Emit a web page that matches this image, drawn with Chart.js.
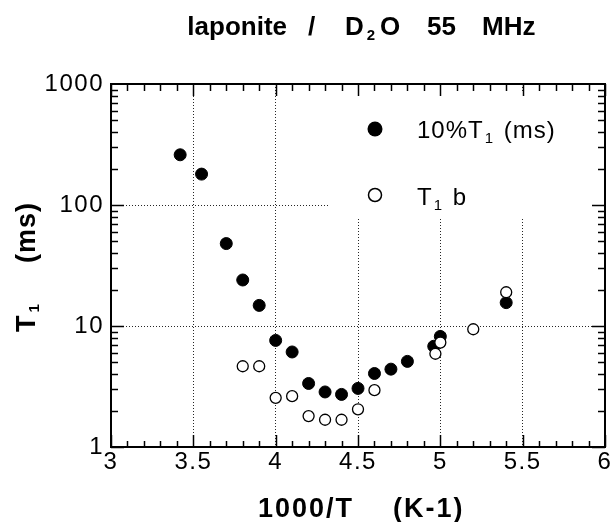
<!DOCTYPE html>
<html><head><meta charset="utf-8">
<script src="https://cdn.jsdelivr.net/npm/chart.js@4/dist/chart.umd.min.js"></script>
<style>html,body{margin:0;padding:0;background:#fff;} canvas{display:block;}</style>
</head><body>
<canvas id="c" width="612" height="522"></canvas>
<script>
// ---- data ----
const xFilled = [3.42, 3.55, 3.70, 3.80, 3.90, 4.00, 4.10, 4.20, 4.30, 4.40, 4.50, 4.60, 4.70, 4.80, 4.96, 5.00, 5.40];
const yFilled = [260, 180, 48, 24, 14.8, 7.6, 6.1, 3.35, 2.85, 2.72, 3.05, 4.05, 4.4, 5.1, 6.8, 8.2, 15.6];
const xOpen = [3.80, 3.90, 4.00, 4.10, 4.20, 4.30, 4.40, 4.50, 4.60, 4.97, 5.00, 5.20, 5.40];
const yOpen = [4.65, 4.65, 2.55, 2.63, 1.8, 1.68, 1.68, 2.05, 2.95, 5.9, 7.3, 9.4, 19];
const xTickValues = [3, 3.5, 4, 4.5, 5, 5.5, 6];
const yTickValues = [1, 10, 100, 1000];
const seriesNames = ['10%T1 (ms)', 'T1 b'];

const FONT = "'Liberation Sans', Arial, Helvetica, sans-serif";

function toPoints(xs, ys) { return xs.map((x, i) => ({x: x, y: ys[i]})); }

function drawRuns(ctx, runs, x, y) {
  let cx = x;
  for (const r of runs) {
    ctx.font = r.font;
    cx += (r.dx || 0);
    ctx.fillText(r.t, cx, y + (r.dy || 0));
    cx += ctx.measureText(r.t).width;
  }
  return cx;
}

const decor = {
  id: 'decor',
  beforeDraw(chart) {
    chart.ctx.letterSpacing = '1.5px';
  },
  beforeDatasetsDraw(chart) {
    const ctx = chart.ctx;
    ctx.save();
    ctx.fillStyle = '#fff';
    ctx.fillRect(330, 92, 267, 126);
    ctx.restore();
  },
  afterDraw(chart) {
    const ctx = chart.ctx;
    const {left, right, top, bottom} = chart.chartArea;
    const xs = chart.scales.x, ys = chart.scales.y;
    ctx.save();
    ctx.setLineDash([]);
    ctx.strokeStyle = '#000';
    ctx.lineWidth = 1.5;
    const line = (a, b, c, d) => { ctx.beginPath(); ctx.moveTo(a, b); ctx.lineTo(c, d); ctx.stroke(); };
    for (let i = 0; i <= 30; i++) {
      const px = Math.round(xs.getPixelForValue(3 + i / 10)) + 0.5;
      const major = i % 5 === 0;
      line(px, bottom, px, bottom - (major ? 12 : 6));
      line(px, top, px, top + (major ? 12 : 7));
    }
    for (let d = 0; d < 3; d++) {
      for (let m = 1; m <= 9; m++) {
        const py = Math.round(ys.getPixelForValue(Math.pow(10, d) * m)) + 0.5;
        const major = m === 1;
        line(left, py, left + (major ? 13 : 7), py);
        line(right, py, right - (major ? 13 : 7), py);
      }
    }
    ctx.lineWidth = 2;
    ctx.strokeRect(left, top, right - left, bottom - top);

    ctx.fillStyle = '#000';
    ctx.textAlign = 'left';
    ctx.textBaseline = 'alphabetic';

    // title
    ctx.letterSpacing = '0px';
    const TB = 'bold 26px ' + FONT;
    ctx.font = TB;
    ctx.textAlign = 'right';
    ctx.fillText('laponite', 287, 35);
    ctx.textAlign = 'left';
    ctx.fillText('/', 308, 35);
    const dEnd = drawRuns(ctx, [{t: 'D', font: TB}, {t: '2', font: 'bold 15px ' + FONT, dx: 3, dy: 5}], 345, 35);
    ctx.font = TB;
    ctx.fillText('O', Math.max(dEnd + 3, 380), 35);
    ctx.fillText('55', 427, 35);
    ctx.fillText('MHz', 482, 35);

    // x axis title
    ctx.letterSpacing = '2px';
    ctx.font = 'bold 27px ' + FONT;
    ctx.fillText('1000/T', 258, 517);
    ctx.fillText('(K-1)', 393, 517);

    // y axis title (rotated)
    ctx.save();
    ctx.translate(35, 332);
    ctx.rotate(-Math.PI / 2);
    ctx.letterSpacing = '1px';
    drawRuns(ctx, [{t: 'T', font: 'bold 27px ' + FONT}, {t: '1', font: 'bold 15px ' + FONT, dx: 2, dy: 4}], 0, 0);
    ctx.font = 'bold 27px ' + FONT;
    ctx.fillText('(ms)', 69, 0);
    ctx.restore();

    // legend
    const ds0 = chart.data.datasets[0], ds1 = chart.data.datasets[1];
    ctx.letterSpacing = '1px';
    ctx.beginPath(); ctx.arc(375, 129, 7.5, 0, Math.PI * 2);
    ctx.fillStyle = ds0.backgroundColor; ctx.fill();
    ctx.beginPath(); ctx.arc(375, 195, 6.5, 0, Math.PI * 2);
    ctx.fillStyle = ds1.backgroundColor; ctx.fill();
    ctx.lineWidth = 1.5; ctx.strokeStyle = ds1.borderColor; ctx.stroke();
    ctx.fillStyle = '#000';
    const LF = '24px ' + FONT, SF = '15px ' + FONT;
    drawRuns(ctx, [{t: '10%T', font: LF}, {t: '1', font: SF, dx: 1, dy: 5}, {t: ' (ms)', font: LF, dx: 2}], 417, 138);
    drawRuns(ctx, [{t: 'T', font: LF}, {t: '1', font: SF, dx: 1, dy: 5}, {t: ' b', font: LF, dx: 2}], 417, 205);
    ctx.restore();
  }
};

new Chart(document.getElementById('c'), {
  type: 'scatter',
  data: {
    datasets: [
      {
        label: seriesNames[0],
        data: toPoints(xFilled, yFilled),
        backgroundColor: '#000',
        borderColor: '#000',
        pointRadius: 6,
        pointBorderWidth: 1,
        order: 2
      },
      {
        label: seriesNames[1],
        data: toPoints(xOpen, yOpen),
        backgroundColor: '#fff',
        borderColor: '#000',
        pointRadius: 5.5,
        pointBorderWidth: 1.3,
        order: 1
      }
    ]
  },
  options: {
    responsive: false,
    animation: false,
    events: [],
    layout: {padding: {left: 0, top: 84, right: 5, bottom: 0}},
    plugins: {legend: {display: false}, tooltip: {enabled: false}, title: {display: false}},
    scales: {
      x: {
        type: 'linear',
        min: 3, max: 6,
        afterBuildTicks: s => { s.ticks = xTickValues.map(v => ({value: v})); },
        afterFit: s => { s.height = 75; s.paddingLeft = 0; s.paddingRight = 0; },
        ticks: {color: '#000', font: {family: FONT, size: 24}, padding: 1, maxRotation: 0, autoSkip: false,
                callback: v => String(v)},
        grid: {color: 'rgba(0,0,0,0.85)', lineWidth: 1, drawTicks: false},
        border: {display: false, dash: [1, 2]}
      },
      y: {
        type: 'logarithmic',
        min: 1, max: 1000,
        afterBuildTicks: s => { s.ticks = yTickValues.map(v => ({value: v})); },
        afterFit: s => { s.width = 111; },
        ticks: {color: '#000', font: {family: FONT, size: 24}, padding: 7, autoSkip: false,
                callback: v => String(v)},
        grid: {color: 'rgba(0,0,0,0.85)', lineWidth: 1, drawTicks: false},
        border: {display: false, dash: [1, 2]}
      }
    }
  },
  plugins: [decor]
});
</script>
</body></html>
